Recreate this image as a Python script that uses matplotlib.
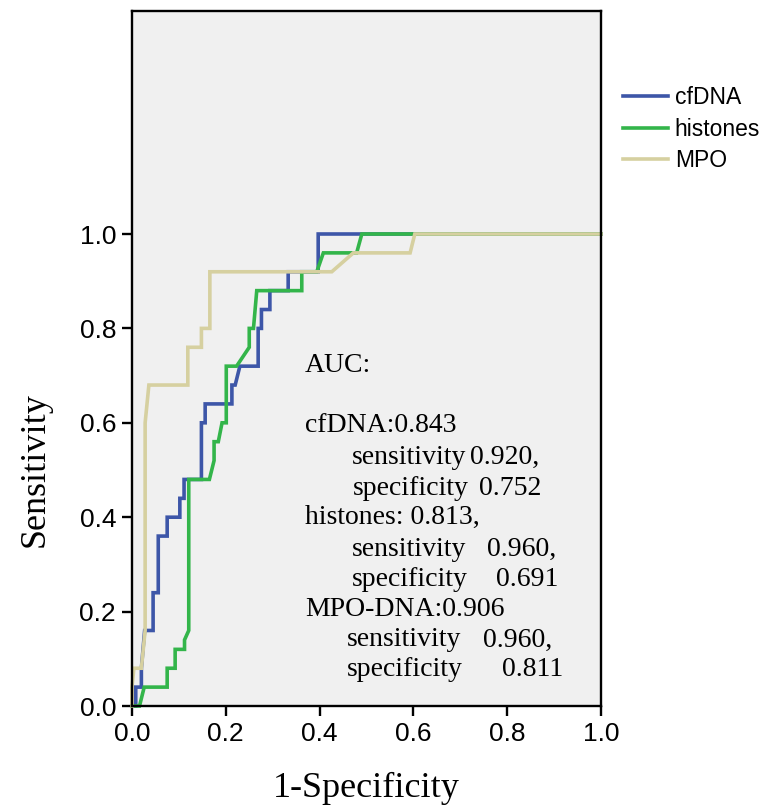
import numpy as np
import matplotlib.pyplot as plt

# ROC points (1-specificity, sensitivity)
cfdna_fpr = [0, 0.008, 0.008, 0.02, 0.02, 0.027, 0.045, 0.045, 0.056, 0.056, 0.075, 0.075,
             0.102, 0.102, 0.111, 0.111, 0.148, 0.148, 0.156, 0.156, 0.213, 0.213, 0.22,
             0.23, 0.269, 0.269, 0.276, 0.276, 0.294, 0.294, 0.333, 0.333, 0.397, 0.397, 1.0]
cfdna_tpr = [0, 0, 0.04, 0.04, 0.08, 0.16, 0.16, 0.24, 0.24, 0.36, 0.36, 0.40,
             0.40, 0.44, 0.44, 0.48, 0.48, 0.60, 0.60, 0.64, 0.64, 0.68, 0.68,
             0.72, 0.72, 0.80, 0.80, 0.84, 0.84, 0.88, 0.88, 0.92, 0.92, 1.0, 1.0]

hist_fpr = [0, 0.016, 0.026, 0.075, 0.075, 0.092, 0.092, 0.112, 0.112, 0.121, 0.121,
            0.165, 0.175, 0.175, 0.184, 0.192, 0.201, 0.201, 0.223, 0.250, 0.250,
            0.259, 0.266, 0.362, 0.362, 0.394, 0.408, 0.479, 0.490, 1.0]
hist_tpr = [0, 0, 0.04, 0.04, 0.08, 0.08, 0.12, 0.12, 0.14, 0.16, 0.48,
            0.48, 0.52, 0.56, 0.56, 0.60, 0.60, 0.72, 0.72, 0.76, 0.80,
            0.80, 0.88, 0.88, 0.92, 0.92, 0.96, 0.96, 1.0, 1.0]

mpo_fpr = [0, 0.0, 0.004, 0.02, 0.028, 0.028, 0.036, 0.119, 0.119, 0.148, 0.148,
           0.166, 0.166, 0.426, 0.472, 0.593, 0.603, 1.0]
mpo_tpr = [0, 0.04, 0.08, 0.08, 0.16, 0.60, 0.68, 0.68, 0.76, 0.76, 0.80,
           0.80, 0.92, 0.92, 0.96, 0.96, 1.0, 1.0]

series = ["cfDNA", "histones", "MPO"]
colors = ["#3D56A8", "#33B54A", "#D6D0A0"]

ticks = [0.0, 0.2, 0.4, 0.6, 0.8, 1.0]

auc_head = ["AUC:", "", "cfDNA:0.843", None, None, "histones: 0.813,", None, None,
            "MPO-DNA:0.906", None, None]
auc_rows = [("sensitivity", "0.920,", 352, 470, 457), ("specificity", "0.752", 353, 479, 488),
            ("sensitivity", "0.960,", 352, 487, 549), ("specificity", "0.691", 352, 496, 579),
            ("sensitivity", "0.960,", 347, 483, 640), ("specificity", "0.811", 347, 502, 670)]

W, H = 769, 806
ytop = (706 - 11) / 472

fig = plt.figure(figsize=(W / 100, H / 100), dpi=100)
ax = fig.add_axes([132 / W, 1 - 706 / H, (601 - 132) / W, (706 - 11) / H])
ax.set_facecolor("#F0F0F0")

for fpr, tpr, name, c in zip([cfdna_fpr, hist_fpr, mpo_fpr],
                             [cfdna_tpr, hist_tpr, mpo_tpr], series, colors):
    ax.plot(fpr, tpr, color=c, lw=2.6, label=name, solid_joinstyle="miter", clip_on=False)

ax.set_xlim(0, 1.0)
ax.set_ylim(0, ytop)
ax.set_xticks(ticks)
ax.set_yticks(ticks)
ax.set_xticklabels([f"{t:.1f}" for t in ticks])
ax.set_yticklabels([f"{t:.1f}" for t in ticks])
for s in ax.spines.values():
    s.set_linewidth(1.7)
ax.tick_params(direction="out", length=7.5, width=1.7, labelsize=19, pad=4)
for lab in ax.get_xticklabels() + ax.get_yticklabels():
    lab.set_family(["Liberation Sans Narrow", "Liberation Sans"])

ax.set_xlabel("1-Specificity", family="Liberation Serif", fontsize=26, labelpad=19)
ax.set_ylabel("Sensitivity", family="Liberation Serif", fontsize=26, labelpad=20)
# label is centred on the 0-1 range, not on the whole axis
ax.yaxis.label.set_y(0.5 / ytop)

leg = ax.legend(loc="upper left", bbox_to_anchor=(623 / W, 1 - 86 / H),
                bbox_transform=fig.transFigure, frameon=False,
                handlelength=1.96, handletextpad=0.3, labelspacing=0.38,
                borderpad=0, borderaxespad=0, prop={"family": "Liberation Sans", "size": 16.5})

def px(x, y):
    return x / W, 1 - y / H

for i, t in enumerate(auc_head):
    if t:
        fig.text(*px(305, 365 + i * 30.5), t, family="Liberation Serif", fontsize=20,
                 va="center", ha="left")
for lab, val, x0, x1, y in auc_rows:
    fig.text(*px(x0, y), lab, family="Liberation Serif", fontsize=20, va="center", ha="left")
    fig.text(*px(x1, y), val, family="Liberation Serif", fontsize=20, va="center", ha="left")

fig.savefig("out.png", dpi=100)
